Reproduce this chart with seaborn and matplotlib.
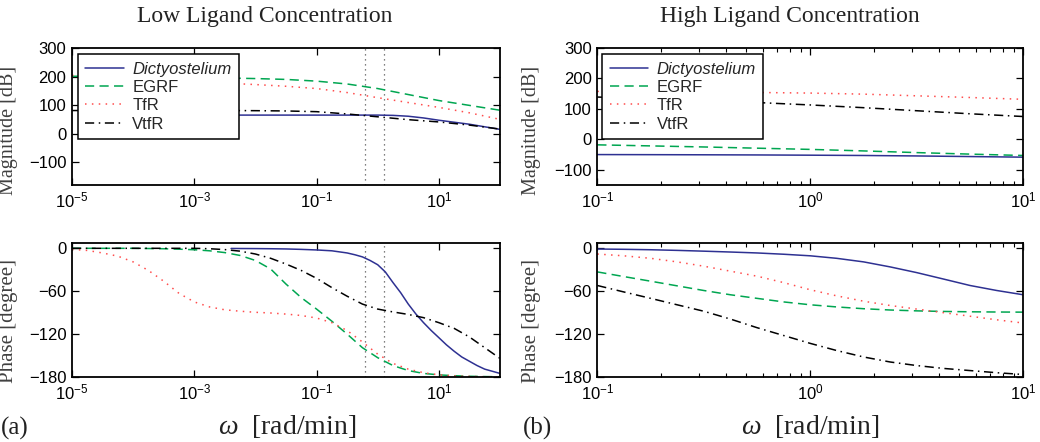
import numpy as np
import pandas as pd
import matplotlib
matplotlib.use("Agg")
import matplotlib.pyplot as plt
import seaborn as sns
from matplotlib.ticker import FixedLocator, LogLocator, NullFormatter, FuncFormatter

# ---------------- data ----------------
series_names = ["Dictyostelium", "EGRF", "TfR", "VtfR"]

# Low ligand: magnitude (half-decade grid)
w_low_mag = [1e-5, 3.16e-5, 1e-4, 3.16e-4, 1e-3, 3.16e-3, 1e-2, 3.16e-2,
             1e-1, 3.16e-1, 1.0, 3.16, 10.0, 31.6, 100.0]
egrf_low_mag = [201, 201, 201, 200.5, 199, 195, 193, 190, 184, 174, 158, 137, 116, 99, 82]
tfr_low_mag = [204, 203, 199, 190, 181, 177, 172, 166, 158, 144, 126, 109, 92, 73, 50]
vtfr_low_mag = [81, 81, 81, 81, 81, 81, 80.5, 79.5, 77, 69, 59, 49, 41, 30, 16]
w_low_mag_dicty = [4e-3, 1e-2, 3.16e-2, 1e-1, 3.16e-1, 1.0, 1.78, 3.16, 5.62, 10.0, 31.6, 100.0]
dicty_low_mag = [65, 65, 65, 65, 65, 65, 64, 61, 55, 47, 33, 15]

# Low ligand: phase (quarter-decade grid)
w_low_ph = [1e-5, 1.78e-5, 3.16e-5, 5.62e-5, 1e-4, 1.78e-4, 3.16e-4, 5.62e-4,
            1e-3, 1.78e-3, 3.16e-3, 5.62e-3, 1e-2, 1.78e-2, 3.16e-2, 5.62e-2,
            1e-1, 1.78e-1, 3.16e-1, 5.62e-1, 1.0, 1.78, 3.16, 5.62,
            10.0, 17.8, 31.6, 56.2, 100.0]
tfr_low_ph = [-1.5, -3, -6.5, -11, -19, -31, -46, -63, -75, -82, -86, -88, -89.5,
              -90.5, -92, -94, -97.5, -104, -115, -131, -148, -161, -169, -174,
              -177, -178.5, -179.2, -179.6, -179.8]
egrf_low_ph = [0, 0, 0, 0, 0, -0.3, -0.6, -1.2, -2, -3.5, -6, -10, -17, -29, -50,
               -69, -85, -102, -120, -139, -153, -164, -171, -175, -177, -178.2,
               -179, -179.4, -179.7]
vtfr_low_ph = [0, 0, 0, 0, 0, 0, 0, 0, 0, -0.6, -1.8, -4, -8, -14, -22, -31, -42,
               -55, -67, -78, -85, -89, -92.5, -97, -104, -112, -124, -139, -154]
w_low_ph_dicty = [4e-3, 5.62e-3, 1e-2, 1.78e-2, 3.16e-2, 5.62e-2, 1e-1, 1.78e-1,
                  3.16e-1, 4.22e-1, 5.62e-1, 7.5e-1, 1.0, 1.33, 1.78, 2.37, 3.16,
                  4.22, 5.62, 7.5, 10.0, 13.3, 17.8, 23.7, 31.6, 42.2, 56.2, 75.0, 100.0]
dicty_low_ph = [-0.2, -0.3, -0.4, -0.6, -0.9, -1.5, -2.3, -3.5, -6.5, -9, -12, -17,
                -23, -33, -48, -62, -78, -92, -104, -115, -125, -135, -144, -152,
                -158, -164, -169, -172, -175]

# High ligand: magnitude (quarter-decade grid)
w_high_mag = [0.1, 0.178, 0.316, 0.562, 1.0, 1.78, 3.16, 5.62, 10.0]
dicty_high_mag = [-50, -50.3, -50.7, -51.2, -52, -53, -54.5, -56.5, -58.5]
egrf_high_mag = [-18, -21.5, -25, -29, -33, -38, -43.5, -48.5, -53]
tfr_high_mag = [157.5, 156.5, 155.5, 154, 152, 148.5, 143, 137.5, 131.5]
vtfr_high_mag = [139, 133, 127, 121, 113, 104, 94, 84, 75]

# High ligand: phase (eighth-decade grid)
w_high_ph = [0.1, 0.133, 0.178, 0.237, 0.316, 0.422, 0.562, 0.75, 1.0,
             1.33, 1.78, 2.37, 3.16, 4.22, 5.62, 7.5, 10.0]
dicty_high_ph = [-1, -1.4, -2, -2.9, -4, -5.2, -6.5, -8.3, -10.5, -14, -19, -26,
                 -34, -43, -52, -59, -65]
egrf_high_ph = [-33, -39.5, -46, -52.5, -59, -65, -70, -75, -79, -82, -84.5,
                -86.3, -87.5, -88.3, -88.8, -89.1, -89.3]
tfr_high_ph = [-8, -10.5, -14, -19, -25, -32, -39, -48, -58, -66.5, -74, -80,
               -85, -90, -95, -100, -104.5]
vtfr_high_ph = [-52, -61, -70, -79, -88, -99, -111, -122, -133, -143, -152, -159,
                -164, -168, -171, -174, -176.5]

marker_freqs = [0.63, 1.25]

titles = ["Low Ligand Concentration", "High Ligand Concentration"]
panel_tags = ["(a)", "(b)"]

# ---------------- style ----------------
sns.set_theme(style="white")
plt.rcParams["font.family"] = ["Liberation Sans", "DejaVu Sans"]
plt.rcParams["mathtext.fontset"] = "custom"
plt.rcParams["mathtext.rm"] = "Liberation Serif"
plt.rcParams["mathtext.it"] = "Liberation Serif:italic"
plt.rcParams["axes.edgecolor"] = "black"
plt.rcParams["axes.linewidth"] = 1.3

colors = {"Dictyostelium": "#2e3192", "EGRF": "#00a651", "TfR": "#ff4d4d", "VtfR": "#000000"}
styles = {"Dictyostelium": "-", "EGRF": (0, (6, 3.5)), "TfR": (0, (1, 3.5)),
          "VtfR": (0, (6, 3, 1, 3))}

fig = plt.figure(figsize=(10.4, 4.42), dpi=100)
L = [0.06923, 0.41154]
R = [0.57433, 0.40962]
top_b, top_h = 0.5814, 0.30995
bot_b, bot_h = 0.14706, 0.3041
ax_lm = fig.add_axes([L[0], top_b, L[1], top_h])
ax_lp = fig.add_axes([L[0], bot_b, L[1], bot_h])
ax_hm = fig.add_axes([R[0], top_b, R[1], top_h])
ax_hp = fig.add_axes([R[0], bot_b, R[1], bot_h])


def draw(ax, xs, ys, name):
    df = pd.DataFrame({"w": xs, "v": ys})
    sns.lineplot(data=df, x="w", y="v", ax=ax, color=colors[name],
                 linestyle=styles[name], linewidth=1.1, estimator=None,
                 sort=False, label=name, legend=False)


for ax in (ax_lm, ax_lp, ax_hm, ax_hp):
    ax.set_xscale("log")

draw(ax_lm, w_low_mag_dicty, dicty_low_mag, "Dictyostelium")
draw(ax_lm, w_low_mag, egrf_low_mag, "EGRF")
draw(ax_lm, w_low_mag, tfr_low_mag, "TfR")
draw(ax_lm, w_low_mag, vtfr_low_mag, "VtfR")

draw(ax_lp, w_low_ph_dicty, dicty_low_ph, "Dictyostelium")
draw(ax_lp, w_low_ph, egrf_low_ph, "EGRF")
draw(ax_lp, w_low_ph, tfr_low_ph, "TfR")
draw(ax_lp, w_low_ph, vtfr_low_ph, "VtfR")

draw(ax_hm, w_high_mag, dicty_high_mag, "Dictyostelium")
draw(ax_hm, w_high_mag, egrf_high_mag, "EGRF")
draw(ax_hm, w_high_mag, tfr_high_mag, "TfR")
draw(ax_hm, w_high_mag, vtfr_high_mag, "VtfR")

draw(ax_hp, w_high_ph, dicty_high_ph, "Dictyostelium")
draw(ax_hp, w_high_ph, egrf_high_ph, "EGRF")
draw(ax_hp, w_high_ph, tfr_high_ph, "TfR")
draw(ax_hp, w_high_ph, vtfr_high_ph, "VtfR")

for ax in (ax_lm, ax_lp):
    for f in marker_freqs:
        ax.axvline(f, color="#555555", linestyle=(0, (1, 3)), linewidth=0.9, zorder=1)


def pow_fmt(v, pos):
    e = int(round(np.log10(v)))
    return r"$\mathregular{10^{%d}}$" % e


for ax in (ax_lm, ax_lp):
    ax.set_xlim(1e-5, 1e2)
    ax.xaxis.set_major_locator(FixedLocator([1e-5, 1e-3, 1e-1, 1e1]))
    ax.xaxis.set_minor_locator(FixedLocator([]))
for ax in (ax_hm, ax_hp):
    ax.set_xlim(1e-1, 1e1)
    ax.xaxis.set_major_locator(FixedLocator([1e-1, 1e0, 1e1]))
    ax.xaxis.set_minor_locator(LogLocator(base=10, subs=np.arange(2, 10)))
    ax.xaxis.set_minor_formatter(NullFormatter())

ax_lm.set_ylim(-180, 300)
ax_hm.set_ylim(-150, 300)
for ax in (ax_lm, ax_hm):
    ax.set_yticks([-100, 0, 100, 200, 300])
    ax.set_yticklabels(["\u2212100", "0", "100", "200", "300"])
for ax in (ax_lp, ax_hp):
    ax.set_ylim(-180, 8)
    ax.set_yticks([-180, -120, -60, 0])
    ax.set_yticklabels(["\u2212180", "\u2212120", "\u221260", "0"])

for ax in (ax_lm, ax_lp, ax_hm, ax_hp):
    ax.xaxis.set_major_formatter(FuncFormatter(pow_fmt))
    ax.tick_params(which="both", direction="in", top=True, right=True,
                   bottom=True, left=True, labelsize=12, colors="black", pad=4)
    ax.tick_params(which="major", length=5, width=0.9)
    ax.tick_params(which="minor", length=3, width=0.8)
    ax.set_xlabel("")
    for s in ax.spines.values():
        s.set_visible(True)
        s.set_color("black")
        s.set_linewidth(1.3)

lab_kw = dict(fontsize=14.5, family="Liberation Serif", color="#404040")
ax_lm.set_ylabel("Magnitude [dB]", **lab_kw)
ax_lp.set_ylabel("Phase [degree]", fontsize=15, family="Liberation Serif", color="#404040")
ax_hm.set_ylabel("Magnitude [dB]", **lab_kw)
ax_hp.set_ylabel("Phase [degree]", fontsize=15, family="Liberation Serif", color="#404040")
ax_lm.yaxis.set_label_coords(-0.126, 0.40)
ax_lp.yaxis.set_label_coords(-0.126, 0.42)
ax_hm.yaxis.set_label_coords(-0.131, 0.40)
ax_hp.yaxis.set_label_coords(-0.131, 0.42)

for ax, x0 in ((ax_lm, 0.014), (ax_hm, 0.012)):
    leg = ax.legend(loc="upper left", bbox_to_anchor=(x0, 0.956), borderaxespad=0,
                    fontsize=12, frameon=True, fancybox=False, edgecolor="black",
                    framealpha=1, labelspacing=0.2, handlelength=2.3,
                    handletextpad=0.5, borderpad=0.45)
    leg.get_frame().set_linewidth(1.1)
    leg.get_texts()[0].set_style("italic")

fig.text(0.2548, 0.963, titles[0], ha="center", va="center", fontsize=17,
         family="Liberation Serif", color="#222222")
fig.text(0.7596, 0.963, titles[1], ha="center", va="center", fontsize=17,
         family="Liberation Serif", color="#222222")
fig.text(0.276, 0.036, r"$\omega$  [rad/min]", ha="center", va="center",
         fontsize=20, family="Liberation Serif", color="#222222")
fig.text(0.779, 0.036, r"$\omega$  [rad/min]", ha="center", va="center",
         fontsize=20, family="Liberation Serif", color="#222222")
fig.text(0.001, 0.030, panel_tags[0], ha="left", va="center", fontsize=18,
         family="Liberation Serif", color="#222222")
fig.text(0.503, 0.030, panel_tags[1], ha="left", va="center", fontsize=18,
         family="Liberation Serif", color="#222222")

fig.savefig("out.png", dpi=100)
